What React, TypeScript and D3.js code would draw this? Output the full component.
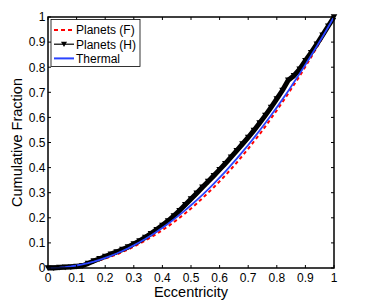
import React from "react";
import * as d3 from "d3";

const ecc = [0, 0.02, 0.04, 0.06, 0.08, 0.1, 0.12, 0.14, 0.16, 0.18, 0.2, 0.22, 0.24, 0.26, 0.28, 0.3, 0.32, 0.34, 0.36, 0.38, 0.4, 0.42, 0.44, 0.46, 0.48, 0.5, 0.52, 0.54, 0.56, 0.58, 0.6, 0.62, 0.64, 0.66, 0.68, 0.7, 0.72, 0.74, 0.76, 0.78, 0.8, 0.82, 0.84, 0.86, 0.88, 0.9, 0.92, 0.94, 0.96, 0.98, 1];

const planetsF = [0, 0, 0.001, 0.003, 0.006, 0.009, 0.013, 0.018, 0.024, 0.031, 0.038, 0.046, 0.054, 0.064, 0.074, 0.085, 0.097, 0.109, 0.122, 0.136, 0.151, 0.166, 0.183, 0.2, 0.218, 0.237, 0.257, 0.278, 0.3, 0.322, 0.345, 0.369, 0.394, 0.42, 0.447, 0.475, 0.504, 0.533, 0.564, 0.596, 0.628, 0.661, 0.695, 0.73, 0.765, 0.802, 0.84, 0.879, 0.918, 0.958, 1.0];

const planetsH = [0, 0, 0.002, 0.003, 0.004, 0.006, 0.009, 0.018, 0.028, 0.037, 0.046, 0.055, 0.064, 0.074, 0.084, 0.096, 0.108, 0.122, 0.137, 0.153, 0.17, 0.188, 0.208, 0.229, 0.252, 0.275, 0.298, 0.322, 0.345, 0.368, 0.392, 0.416, 0.442, 0.468, 0.494, 0.52, 0.548, 0.578, 0.608, 0.64, 0.674, 0.708, 0.748, 0.766, 0.792, 0.826, 0.858, 0.892, 0.928, 0.964, 1.0];

const thermal = [0, 0.0004, 0.0016, 0.0036, 0.0064, 0.01, 0.0144, 0.0196, 0.0256, 0.0324, 0.04, 0.0484, 0.0576, 0.0676, 0.0784, 0.09, 0.1024, 0.1156, 0.1296, 0.1444, 0.16, 0.1764, 0.1936, 0.2116, 0.2304, 0.25, 0.2704, 0.2916, 0.3136, 0.3364, 0.36, 0.3844, 0.4096, 0.4356, 0.4624, 0.49, 0.5184, 0.5476, 0.5776, 0.6084, 0.64, 0.6724, 0.7056, 0.7396, 0.7744, 0.81, 0.8464, 0.8836, 0.9216, 0.9604, 1];

const xTicks = [0, 0.1, 0.2, 0.3, 0.4, 0.5, 0.6, 0.7, 0.8, 0.9, 1];
const yTicks = [0, 0.1, 0.2, 0.3, 0.4, 0.5, 0.6, 0.7, 0.8, 0.9, 1];
const legendLabels = ["Planets (F)", "Planets (H)", "Thermal"];

const W = 369, H = 303;
const L = 48, R = 334, T = 17, B = 268;
const font = "'Liberation Sans', Arial, Helvetica, sans-serif";

function tri(cx: number, cy: number, s: number) {
  return `M${cx - s},${cy - s * 0.8}L${cx + s},${cy - s * 0.8}L${cx},${cy + s * 0.9}Z`;
}

export default function App() {
  const x = d3.scaleLinear().domain([0, 1]).range([L, R]);
  const y = d3.scaleLinear().domain([0, 1]).range([B, T]);
  const line = d3.line<number>().x((_, i) => x(ecc[i])).y((d) => y(d));

  return (
    <svg width={W} height={H} style={{ position: "absolute", left: 0, top: 0, background: "#fff" }}>
      <rect x={0} y={0} width={W} height={H} fill="#fff" />
      <path d={line(planetsF) || ""} fill="none" stroke="#ff0000" strokeWidth={2} strokeDasharray="3.5,3" />
      <path d={line(planetsH) || ""} fill="none" stroke="#000" strokeWidth={5} />
      {planetsH.map((v, i) => (
        <path key={i} d={tri(x(ecc[i]), y(v), 3.3)} fill="#000" />
      ))}
      <path d={line(thermal) || ""} fill="none" stroke="#2a44ff" strokeWidth={1.8} />

      <rect x={L} y={T} width={R - L} height={B - T} fill="none" stroke="#000" strokeWidth={1.5} />
      {xTicks.map((t) => (
        <g key={"x" + t}>
          <line x1={x(t)} x2={x(t)} y1={B} y2={B - 3} stroke="#000" strokeWidth={1} />
          <line x1={x(t)} x2={x(t)} y1={T} y2={T + 3} stroke="#000" strokeWidth={1} />
          <text x={x(t)} y={281.5} textAnchor="middle" fontFamily={font} fontSize={12} fill="#000">
            {String(t)}
          </text>
        </g>
      ))}
      {yTicks.map((t) => (
        <g key={"y" + t}>
          <line x1={L} x2={L + 3} y1={y(t)} y2={y(t)} stroke="#000" strokeWidth={1} />
          <line x1={R} x2={R - 3} y1={y(t)} y2={y(t)} stroke="#000" strokeWidth={1} />
          <text x={45.5} y={y(t) + 4.3} textAnchor="end" fontFamily={font} fontSize={12} fill="#000">
            {String(t)}
          </text>
        </g>
      ))}
      <text x={(L + R) / 2} y={297} textAnchor="middle" fontFamily={font} fontSize={14.5} fill="#000">
        Eccentricity
      </text>
      <text
        transform={`translate(22,${(T + B) / 2}) rotate(-90)`}
        textAnchor="middle"
        fontFamily={font}
        fontSize={14.5}
        fill="#000"
      >
        Cumulative Fraction
      </text>

      <rect x={51} y={19.5} width={89} height={47} fill="#fff" stroke="#000" strokeWidth={0.8} />
      {legendLabels.map((lab, i) => {
        const ly = 30 + i * 14.2;
        return (
          <g key={lab}>
            {i === 0 && <line x1={54} x2={74} y1={ly} y2={ly} stroke="#ff0000" strokeWidth={2} strokeDasharray="4,3" />}
            {i === 1 && (
              <g>
                <line x1={54} x2={74} y1={ly} y2={ly} stroke="#000" strokeWidth={1.2} />
                <path d={tri(64, ly, 3)} fill="#000" />
              </g>
            )}
            {i === 2 && <line x1={54} x2={74} y1={ly} y2={ly} stroke="#2a44ff" strokeWidth={2} />}
            <text x={76} y={ly + 4.3} fontFamily={font} fontSize={12} fill="#000">
              {lab}
            </text>
          </g>
        );
      })}
    </svg>
  );
}
